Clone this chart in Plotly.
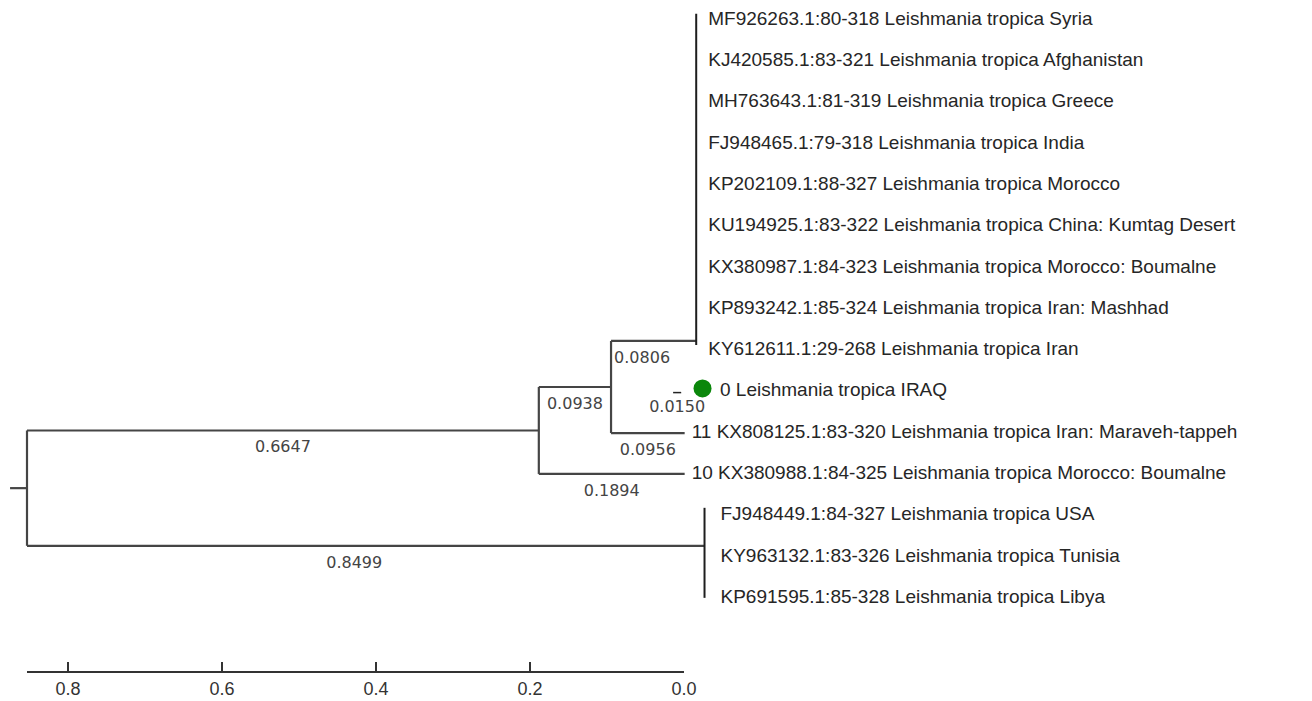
import plotly.graph_objects as go

# ---------------- data ----------------
upper_clade_labels = [
    "MF926263.1:80-318 Leishmania tropica Syria",
    "KJ420585.1:83-321 Leishmania tropica Afghanistan",
    "MH763643.1:81-319 Leishmania tropica Greece",
    "FJ948465.1:79-318 Leishmania tropica India",
    "KP202109.1:88-327 Leishmania tropica Morocco",
    "KU194925.1:83-322 Leishmania tropica China: Kumtag Desert",
    "KX380987.1:84-323 Leishmania tropica Morocco: Boumalne",
    "KP893242.1:85-324 Leishmania tropica Iran: Mashhad",
    "KY612611.1:29-268 Leishmania tropica Iran",
]
iraq_label = "0 Leishmania tropica IRAQ"
t11_label = "11 KX808125.1:83-320 Leishmania tropica Iran: Maraveh-tappeh"
t10_label = "10 KX380988.1:84-325 Leishmania tropica Morocco: Boumalne"
lower_clade_labels = [
    "FJ948449.1:84-327 Leishmania tropica USA",
    "KY963132.1:83-326 Leishmania tropica Tunisia",
    "KP691595.1:85-328 Leishmania tropica Libya",
]

# tree topology: node -> parent, and branch lengths
parents = {"A": "root", "B": "A", "UC": "B", "IRAQ": "B", "T11": "B", "T10": "A", "LC": "root"}
branch_lengths = {"A": 0.6647, "B": 0.0938, "UC": 0.0806, "IRAQ": 0.0150,
                  "T11": 0.0956, "T10": 0.1894, "LC": 0.8499}
branch_text = {"A": "0.6647", "B": "0.0938", "UC": "0.0806", "IRAQ": "0.0150",
               "T11": "0.0956", "T10": "0.1894", "LC": "0.8499"}
# row positions of leaves / collapsed clade attachment points
leaf_rows = {"UC": 7.82, "IRAQ": 9.0, "T11": 10.05, "T10": 11.04, "LC": 12.78}
upper_rows = list(range(0, 9))
lower_rows = [12, 13, 14]
clade_bar_rows = {"UC": (-0.1, 7.92), "LC": (11.86, 14.04)}

scale_ticks = [0.8, 0.6, 0.4, 0.2, 0.0]
scale_ticktext = ["0.8", "0.6", "0.4", "0.2", "0.0"]

# ---------------- layout constants ----------------
W, H = 1312, 701
PX_PER_UNIT = 770.0
ROOT_PX = 27.0
ROW0_PX, ROW_PX = 18.0, 41.3
CLADE_EXT = 0.030
ROOT_STUB = 0.022
TEXT_DY = 2 / ROW_PX
LINE_COLOR = "#454545"
BAR_COLOR = "#1e1e1e"

# ---------------- derived geometry ----------------
depth = {"root": 0.0}
def get_depth(n):
    if n not in depth:
        depth[n] = get_depth(parents[n]) + branch_lengths[n]
    return depth[n]
for n in parents:
    get_depth(n)

children = {}
for c, p in parents.items():
    children.setdefault(p, []).append(c)

ypos = dict(leaf_rows)
def get_y(n):
    if n not in ypos:
        ys = [get_y(c) for c in children[n]]
        ypos[n] = (min(ys) + max(ys)) / 2
    return ypos[n]
get_y("root")

xs, ys = [], []
def seg(x0, y0, x1, y1):
    xs.extend([x0, x1, None]); ys.extend([y0, y1, None])

# root stub
seg(-ROOT_STUB, ypos["root"], 0, ypos["root"])
# horizontal branches
for n, p in parents.items():
    if n == "IRAQ":
        continue
    x1 = depth[n] + (CLADE_EXT if n in clade_bar_rows else 0)
    seg(depth[p], ypos[n], x1, ypos[n])
# vertical connectors (IRAQ not connected in original)
for n, ch in children.items():
    cy = [ypos[c] for c in ch if c != "IRAQ"]
    seg(depth[n], min(cy), depth[n], max(cy))

# IRAQ short branch dash
iraq_x0 = depth["UC"]
iraq_x1 = depth["UC"] + branch_lengths["IRAQ"] * 0.7

bx, by = [], []
for n in clade_bar_rows:
    x = depth[n] + CLADE_EXT
    bx.extend([x, x, None]); by.extend([clade_bar_rows[n][0], clade_bar_rows[n][1], None])

# branch labels
lbl_x, lbl_y, lbl_t = [], [], []
for n, p in parents.items():
    if n == "IRAQ":
        lbl_x.append((iraq_x0 + iraq_x1) / 2)
    else:
        lbl_x.append((depth[p] + depth[n]) / 2)
    lbl_y.append(ypos[n] + 18 / ROW_PX)
    lbl_t.append(branch_text[n])

# tip labels
tip_x, tip_y, tip_t = [], [], []
ux = depth["UC"] + CLADE_EXT + 12 / PX_PER_UNIT
for r, t in zip(upper_rows, upper_clade_labels):
    tip_x.append(ux); tip_y.append(r + TEXT_DY); tip_t.append(t)
iraq_lx = depth["LC"] + CLADE_EXT + 15.5 / PX_PER_UNIT
tip_x.append(iraq_lx); tip_y.append(9 + TEXT_DY); tip_t.append(iraq_label)
tip_x.append(depth["T11"] + 7 / PX_PER_UNIT); tip_y.append(10 + TEXT_DY); tip_t.append(t11_label)
tip_x.append(depth["T10"] + 7 / PX_PER_UNIT); tip_y.append(11 + TEXT_DY); tip_t.append(t10_label)
lx = depth["LC"] + CLADE_EXT + 16 / PX_PER_UNIT
for r, t in zip(lower_rows, lower_clade_labels):
    tip_x.append(lx); tip_y.append(r + TEXT_DY); tip_t.append(t)

fig = go.Figure()
fig.add_trace(go.Scatter(x=xs, y=ys, mode="lines", line=dict(color=LINE_COLOR, width=2.2),
                         hoverinfo="skip", showlegend=False))
fig.add_trace(go.Scatter(x=bx, y=by, mode="lines", line=dict(color=BAR_COLOR, width=2),
                         hoverinfo="skip", showlegend=False))
fig.add_trace(go.Scatter(x=[iraq_x0, iraq_x1], y=[ypos["IRAQ"] + 0.07] * 2, mode="lines",
                         line=dict(color="#222222", width=1.5), hoverinfo="skip", showlegend=False))
fig.add_trace(go.Scatter(x=[iraq_lx - 17.5 / PX_PER_UNIT], y=[ypos["IRAQ"] - 0.03], mode="markers",
                         marker=dict(color="#0b870b", size=18, line=dict(width=0)),
                         hoverinfo="skip", showlegend=False))
fig.add_trace(go.Scatter(x=lbl_x, y=lbl_y, text=lbl_t, mode="text", textposition="middle center",
                         textfont=dict(family="DejaVu Sans", size=16, color="#444444"),
                         hoverinfo="skip", showlegend=False))
fig.add_trace(go.Scatter(x=tip_x, y=tip_y, text=tip_t, mode="text", textposition="middle right",
                         textfont=dict(family="Liberation Sans, Arial", size=19, color="#262626"),
                         hoverinfo="skip", showlegend=False))
# dummy trace for scale axis
fig.add_trace(go.Scatter(x=scale_ticks, y=[None] * len(scale_ticks), xaxis="x2", yaxis="y",
                         mode="markers", marker=dict(opacity=0), hoverinfo="skip", showlegend=False))

x_lo = -ROOT_PX / PX_PER_UNIT
x_hi = (W - ROOT_PX) / PX_PER_UNIT
y_top = -ROW0_PX / ROW_PX
y_bot = (H - ROW0_PX) / ROW_PX
zero_px = 684.0
scale_left = (zero_px - ROOT_PX) / PX_PER_UNIT

fig.update_layout(
    width=W, height=H, autosize=False, margin=dict(l=0, r=0, t=0, b=0, pad=0, autoexpand=False),
    plot_bgcolor="rgba(0,0,0,0)", paper_bgcolor="white",
    xaxis=dict(range=[x_lo, x_hi], visible=False, domain=[0, 1], automargin=False),
    yaxis=dict(range=[y_bot, y_top], visible=False, domain=[0, 1], automargin=False),
    xaxis2=dict(domain=[ROOT_PX / W, zero_px / W], range=[scale_left, 0], anchor="free",
                position=1 - 672 / H, side="bottom", showgrid=False, zeroline=False, automargin=False,
                showline=True, linecolor="#333333", linewidth=2,
                ticks="inside", ticklen=9, tickwidth=2, tickcolor="#333333",
                tickvals=scale_ticks, ticktext=scale_ticktext, ticklabelstandoff=0,
                tickfont=dict(family="Liberation Sans Narrow, Arial Narrow, Liberation Sans",
                              size=18, color="#333333")),
    showlegend=False,
)

post = ("document.body.style.margin='0';document.body.style.overflow='hidden';")
fig.write_html("out.html", config={"displayModeBar": False}, post_script=post)
